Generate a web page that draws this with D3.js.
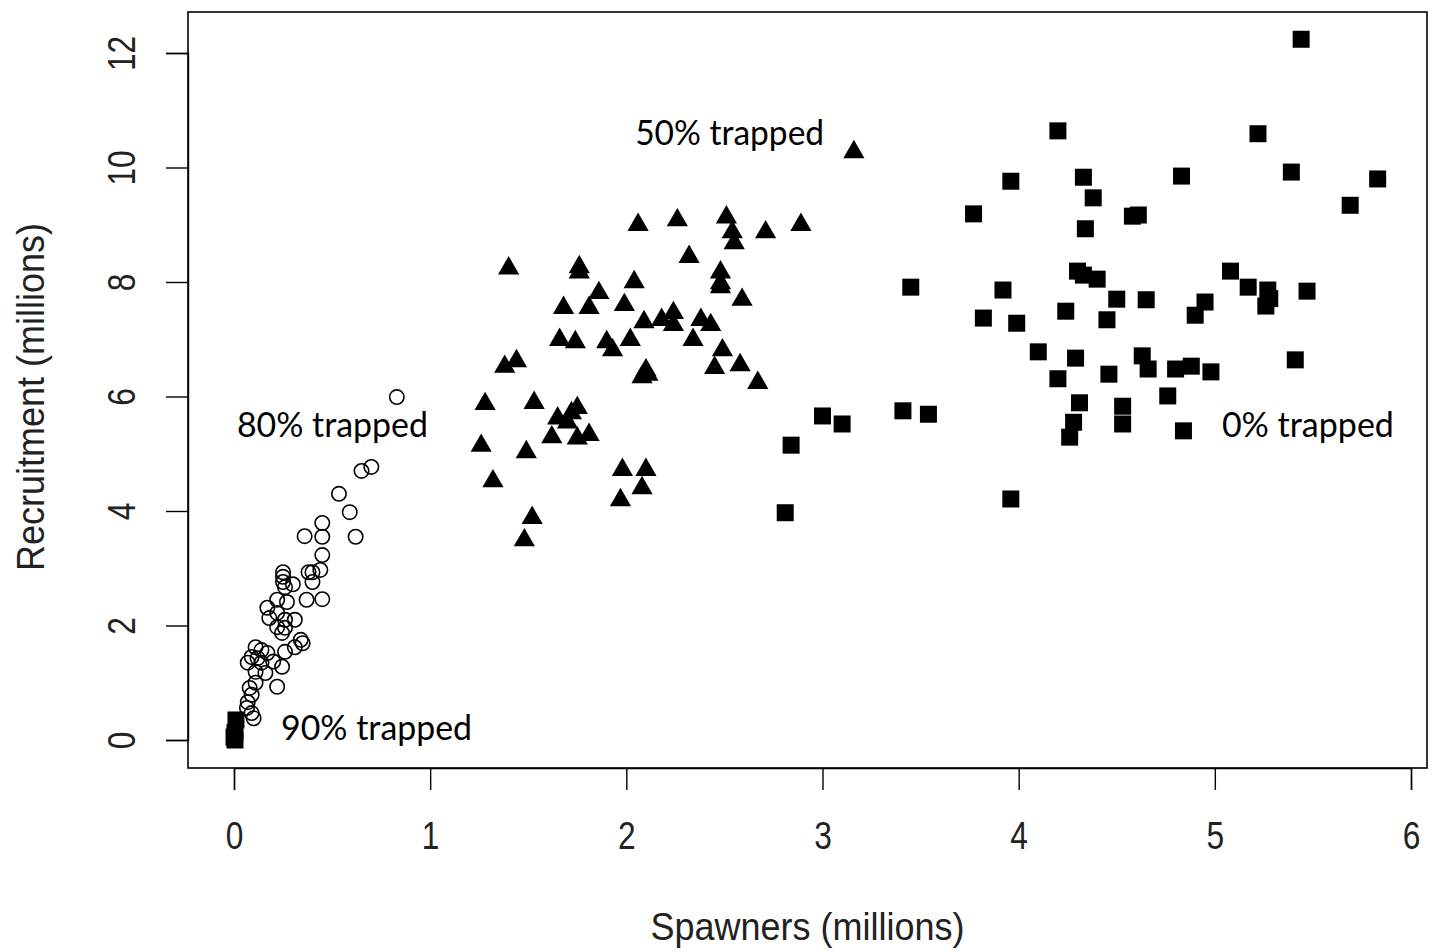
<!DOCTYPE html>
<html>
<head>
<meta charset="utf-8">
<script src="https://cdn.jsdelivr.net/npm/d3@7"></script>
<style>
html,body{margin:0;padding:0;background:#fff;}
svg{display:block;}
</style>
</head>
<body>
<svg id="chart" width="1435" height="952"></svg>
<script>
// ---- Data (millions) ----
// 80% trapped (open circles)
const spawners80 = [0.83,0.65,0.70,0.535,0.59,0.62,0.45,0.36,0.45,0.45,0.38,0.40,0.44,0.40,0.25,0.25,0.25,0.26,0.30,0.37,0.45,0.17,0.22,0.27,0.18,0.22,0.26,0.31,0.22,0.26,0.245,0.34,0.35,0.31,0.11,0.14,0.09,0.12,0.17,0.26,0.07,0.14,0.20,0.245,0.11,0.16,0.11,0.22,0.08,0.09,0.07,0.066,0.09,0.10];
const recruits80 = [5.99,4.70,4.77,4.30,3.98,3.55,3.79,3.56,3.55,3.23,2.93,2.93,2.97,2.76,2.93,2.85,2.76,2.67,2.72,2.45,2.46,2.31,2.45,2.41,2.13,2.22,2.10,2.10,1.97,1.96,1.87,1.75,1.69,1.62,1.62,1.57,1.45,1.43,1.52,1.54,1.35,1.35,1.37,1.28,1.19,1.17,1.00,0.93,0.91,0.79,0.66,0.56,0.47,0.38];
// 50% trapped (filled triangles)
const spawners50 = [2.06,2.26,2.51,2.54,2.55,2.71,2.89,1.40,1.76,1.76,2.32,2.48,2.48,2.48,2.04,1.86,2.59,1.68,1.81,1.99,2.09,2.18,2.24,2.24,2.38,2.43,1.66,1.74,1.90,1.93,2.02,2.34,2.49,2.45,2.58,2.67,1.38,1.44,2.10,2.11,2.08,1.28,1.53,1.65,1.72,1.75,1.70,1.62,1.75,1.81,1.26,1.49,1.32,1.98,2.10,2.08,1.97,1.52,1.48,3.16];
const recruits50 = [9.00,9.08,9.13,8.87,8.68,8.87,9.00,8.24,8.26,8.17,8.44,8.17,7.98,7.91,8.00,7.81,7.69,7.55,7.55,7.60,7.30,7.34,7.46,7.25,7.34,7.25,6.99,6.95,6.95,6.81,6.99,6.99,6.81,6.50,6.55,6.24,6.52,6.62,6.46,6.38,6.34,5.87,5.89,5.62,5.71,5.80,5.55,5.29,5.27,5.33,5.14,5.03,4.52,4.72,4.72,4.40,4.19,3.88,3.49,10.27];
// 0% trapped (filled squares)
const spawners0 = [5.44,4.20,5.22,3.96,4.33,4.83,5.39,5.83,5.69,4.38,4.34,3.77,4.58,4.61,3.45,3.92,3.82,3.99,4.30,4.33,4.40,4.24,4.50,4.65,4.45,5.08,5.17,5.27,5.28,5.26,5.47,4.95,4.90,4.10,4.29,4.20,4.63,4.46,4.66,4.80,4.88,4.98,5.41,4.31,4.53,4.76,4.28,4.26,4.53,4.84,3.00,3.10,3.41,3.54,2.84,2.81,3.96];
const recruits0 = [12.24,10.64,10.59,9.76,9.83,9.85,9.92,9.80,9.34,9.47,8.93,9.19,9.15,9.17,7.91,7.86,7.37,7.28,8.19,8.12,8.05,7.49,7.70,7.69,7.34,8.19,7.91,7.86,7.71,7.58,7.84,7.65,7.42,6.78,6.67,6.31,6.71,6.39,6.48,6.48,6.53,6.43,6.64,5.89,5.83,6.01,5.55,5.29,5.52,5.40,5.66,5.52,5.75,5.69,5.15,3.97,4.21];
// 90% trapped (filled squares near origin)
const spawners90 = [0.01,0.005,0.0,0.005];
const recruits90 = [0.35,0.13,0.05,0.0];

const xTicks = [0,1,2,3,4,5,6];
const yTicks = [0,2,4,6,8,10,12];
const xTitle = "Spawners (millions)";
const yTitle = "Recruitment (millions)";
const labels = [
  {text:"50% trapped", sx:2.05, ry:10.4, len:189},
  {text:"80% trapped", sx:0.015, ry:5.3, len:191},
  {text:"90% trapped", sx:0.24, ry:0.0, len:191},
  {text:"0% trapped", sx:5.036, ry:5.3, len:172}
];

// ---- Layout ----
const svg = d3.select("#chart");
const box = {left:188, right:1427, top:12, bottom:768};
const x = d3.scaleLinear().domain([0,6]).range([234,1411]);
const y = d3.scaleLinear().domain([0,12]).range([740,53]);
const axisFont = "'Liberation Sans', Arial, sans-serif";
const textColor = "#222";

// Box
svg.append("rect")
  .attr("x", box.left).attr("y", box.top)
  .attr("width", box.right-box.left).attr("height", box.bottom-box.top)
  .attr("fill","none").attr("stroke","#000").attr("stroke-width",1.6);

// X axis
const gx = svg.append("g").attr("transform",`translate(0,${box.bottom})`)
  .call(d3.axisBottom(x).tickValues(xTicks).tickSize(22).tickFormat(d3.format("d")));
gx.select(".domain").attr("stroke","#000").attr("stroke-width",1.4);
gx.selectAll(".tick line").attr("stroke","#000").attr("stroke-width",1.4);
gx.selectAll(".tick text")
  .attr("font-family",axisFont).attr("font-size",36).attr("fill",textColor)
  .attr("y",null).attr("dy",null).attr("text-anchor","middle")
  .attr("transform","translate(0,81) scale(0.88,1.1)");

// Y axis
const gy = svg.append("g").attr("transform",`translate(${box.left},0)`)
  .call(d3.axisLeft(y).tickValues(yTicks).tickSize(22).tickFormat(d3.format("d")));
gy.select(".domain").attr("stroke","#000").attr("stroke-width",1.4);
gy.selectAll(".tick line").attr("stroke","#000").attr("stroke-width",1.4);
gy.selectAll(".tick text")
  .attr("font-family",axisFont).attr("font-size",36).attr("fill",textColor)
  .attr("x",null).attr("dy",null).attr("text-anchor","middle")
  .attr("transform","translate(-53,0) rotate(-90) scale(0.88,1.1)");

// Axis titles
svg.append("text")
  .attr("transform",`translate(${(box.left+box.right)/2},940) scale(1.0,1.1)`)
  .attr("text-anchor","middle").attr("font-family",axisFont).attr("font-size",36).attr("fill",textColor)
  .text(xTitle);
svg.append("text")
  .attr("transform",`translate(44,397) rotate(-90) scale(1.0,1.1)`)
  .attr("text-anchor","middle").attr("font-family",axisFont).attr("font-size",36).attr("fill",textColor)
  .text(yTitle);

// Points
const zip = (a,b)=>a.map((v,i)=>({sx:v, ry:b[i]}));
const pts80 = zip(spawners80, recruits80);
const pts50 = zip(spawners50, recruits50);
const pts0  = zip(spawners0, recruits0);
const pts90 = zip(spawners90, recruits90);

const plot = svg.append("g");
plot.selectAll("circle.p80").data(pts80).enter().append("circle")
  .attr("class","p80")
  .attr("cx",d=>x(d.sx)).attr("cy",d=>y(d.ry)).attr("r",7.2)
  .attr("fill","none").attr("stroke","#000").attr("stroke-width",1.6);

const tri = d3.symbol().type(d3.symbolTriangle).size(195);
plot.selectAll("path.p50").data(pts50).enter().append("path")
  .attr("class","p50")
  .attr("d",tri)
  .attr("transform",d=>`translate(${x(d.sx)},${y(d.ry)})`)
  .attr("fill","#000");

const sq = d3.symbol().type(d3.symbolSquare).size(289);
plot.selectAll("path.p0").data(pts0.concat(pts90)).enter().append("path")
  .attr("class","p0")
  .attr("d",sq)
  .attr("transform",d=>`translate(${x(d.sx)},${y(d.ry)})`)
  .attr("fill","#000");

// Annotations
svg.append("g").selectAll("text").data(labels).enter().append("text")
  .attr("x",d=>x(d.sx)+ (d.text==="50% trapped"?-1:0))
  .attr("y",d=>y(d.ry))
  .attr("font-family","Lato, 'Open Sans', sans-serif")
  .attr("font-size",35)
  .attr("fill","#000")
  .attr("textLength",d=>d.len).attr("lengthAdjust","spacingAndGlyphs")
  .text(d=>d.text);
</script>
</body>
</html>
